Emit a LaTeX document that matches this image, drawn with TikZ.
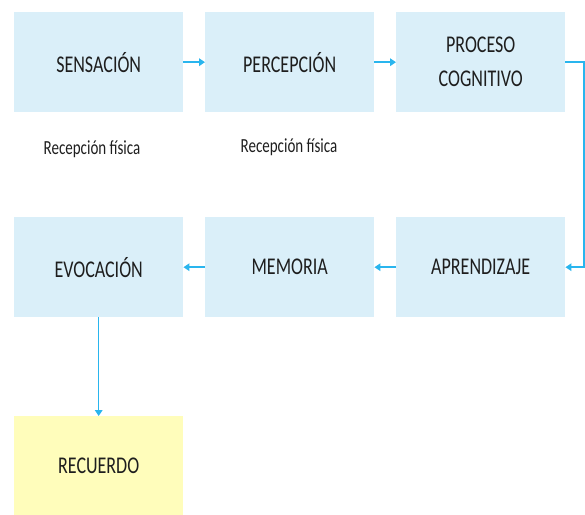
\documentclass[tikz,border=0pt]{standalone}
\usepackage{fontspec}
\setmainfont{Carlito}[FakeStretch=0.75]
\usetikzlibrary{arrows.meta}
\definecolor{boxblue}{HTML}{DAEFF9}
\definecolor{boxyellow}{HTML}{FFFDBB}
\definecolor{arrowblue}{HTML}{29B5EE}
\definecolor{txt}{HTML}{1E1E1E}
\begin{document}
\begin{tikzpicture}[x=1pt,y=-1pt,
  stepbox/.style={anchor=north west, minimum width=169pt, minimum height=100pt,
    inner sep=0pt, fill=boxblue, text=txt, align=center,
    font=\fontsize{24}{34}\selectfont},
  endbox/.style={stepbox, fill=boxyellow},
  note/.style={text=txt, inner sep=0pt, font=\fontsize{20}{24}\selectfont},
  conn/.style={draw=arrowblue, line width=1.5pt, -{Triangle[length=6pt,width=7.5pt]}}
]
\useasboundingbox (0,0) rectangle (585,514);
\node[stepbox] (sen) at (14,12) {SENSACIÓN};
\node[stepbox] (per) at (205,12) {PERCEPCIÓN};
\node[stepbox] (pro) at (396,12) {PROCESO\\COGNITIVO};
\node[stepbox] (evo) at (14,217) {EVOCACIÓN};
\node[stepbox] (mem) at (205,217) {MEMORIA};
\node[stepbox] (apr) at (396,217) {APRENDIZAJE};
\node[endbox] (rec) at (14,416) {RECUERDO};
\node[note] (n1) at (92,149) {Recepción física};
\node[note] (n2) at (289,147) {Recepción física};
\coordinate (rx) at (584,64);
\draw[conn] (sen.east) -- (per.west);
\draw[conn] (per.east) -- (pro.west);
\draw[conn] (pro.east) -- (pro.east -| rx) |- (apr.east);
\draw[conn] (apr.west) -- (mem.east);
\draw[conn] (mem.west) -- (evo.east);
\draw[conn] (evo.south) -- (rec.north);
\end{tikzpicture}
\end{document}
